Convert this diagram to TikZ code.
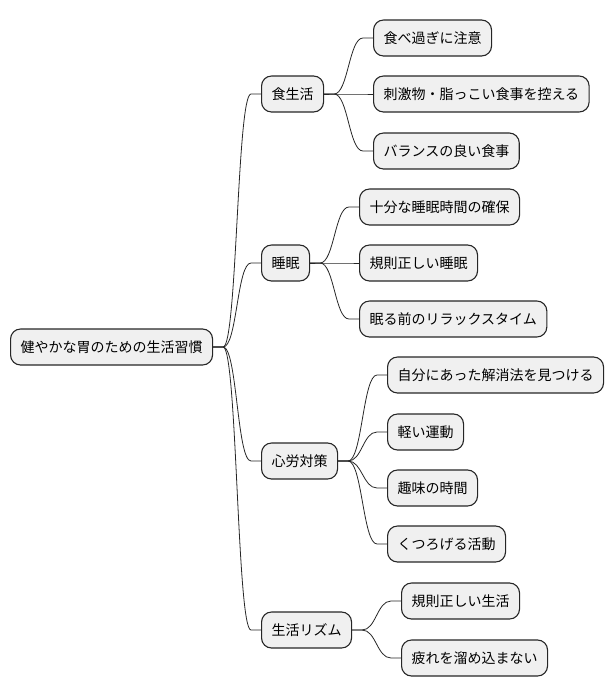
\documentclass[tikz,border=0pt]{standalone}
\usepackage{fontspec}
\newfontfamily\jpfont{Noto Sans CJK JP}
\begin{document}
\begin{tikzpicture}[x=1pt,y=-1pt,
  box/.style={draw=black!85, line width=1.1pt, fill=black!6, rounded corners=10pt,
    anchor=west, minimum height=36pt, inner xsep=10pt, inner ysep=0pt,
    font=\jpfont\fontsize{14}{16}\selectfont},
  conn/.style={draw=black!85, line width=0.8pt}]
\useasboundingbox (0,0) rectangle (614,696);
% root
\node[box] (r) at (10,347) {健やかな胃のための生活習慣};
% level 1
\node[box] (a) at (261,94) {食生活};
\node[box] (b) at (261,263) {睡眠};
\node[box] (c) at (261,461) {心労対策};
\node[box] (d) at (261,630) {生活リズム};
% level 2
\node[box] (a1) at (373,38) {食べ過ぎに注意};
\node[box] (a2) at (373,94) {刺激物・脂っこい食事を控える};
\node[box] (a3) at (373,151) {バランスの良い食事};
\node[box] (b1) at (359,207) {十分な睡眠時間の確保};
\node[box] (b2) at (359,263) {規則正しい睡眠};
\node[box] (b3) at (359,319) {眠る前のリラックスタイム};
\node[box] (c1) at (387,375) {自分にあった解消法を見つける};
\node[box] (c2) at (387,432) {軽い運動};
\node[box] (c3) at (387,488) {趣味の時間};
\node[box] (c4) at (387,544) {くつろげる活動};
\node[box] (d1) at (401,601) {規則正しい生活};
\node[box] (d2) at (401,658) {疲れを溜め込まない};
% connectors
\foreach \p/\c in {r/a,r/b,r/c,r/d,a/a1,a/a2,a/a3,b/b1,b/b2,b/b3,c/c1,c/c2,c/c3,c/c4,d/d1,d/d2}{
  \draw[conn] (\p.east) -- ([xshift=10pt]\p.east) to[out=0,in=180,distance=14pt] ([xshift=-10pt]\c.west) -- (\c.west);
}
\end{tikzpicture}
\end{document}
